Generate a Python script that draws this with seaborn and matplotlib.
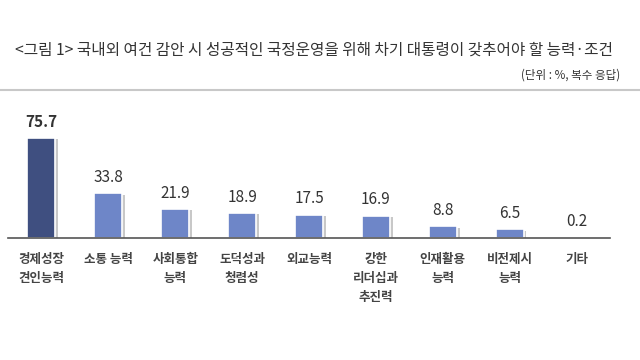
import matplotlib
matplotlib.use("Agg")
import matplotlib.pyplot as plt
import matplotlib.patheffects as pe
import seaborn as sns
import pandas as pd

categories = ["경제성장\n견인능력", "소통 능력", "사회통합\n능력", "도덕성과\n청렴성", "외교능력",
              "강한\n리더십과\n추진력", "인재활용\n능력", "비전제시\n능력", "기타"]
values = [75.7, 33.8, 21.9, 18.9, 17.5, 16.9, 8.8, 6.5, 0.2]
value_labels = ["75.7", "33.8", "21.9", "18.9", "17.5", "16.9", "8.8", "6.5", "0.2"]
title = "<그림 1> 국내외 여건 감안 시 성공적인 국정운영을 위해 차기 대통령이 갖추어야 할 능력·조건"
unit = "(단위 : %, 복수 응답)"

sns.set_theme(style="white")
plt.rcParams['font.family'] = ['Noto Sans CJK KR', 'DejaVu Sans']

dark = "#3f4f80"
light = "#6e86c8"
palette = [dark] + [light] * (len(categories) - 1)

df = pd.DataFrame({"cat": categories, "val": values})

fig = plt.figure(figsize=(6.4, 3.6), dpi=100)
ax = fig.add_axes([8/640, (360-238)/360, 602/640, 138/360])
sns.barplot(data=df, x="cat", y="val", hue="cat", palette=palette, legend=False,
            width=0.42, ax=ax, saturation=1)

for p in ax.patches:
    p.set_edgecolor("white")
    p.set_linewidth(1.2)
    p.set_path_effects([pe.SimplePatchShadow(offset=(2, -1), shadow_rgbFace="#bbbbbb", alpha=0.8),
                        pe.Normal()])

ax.set_xlim(-0.5, len(categories) - 0.5)
ax.set_ylim(0, 104.5)
ax.set_xlabel("")
ax.set_ylabel("")
ax.set_yticks([])
for s in ["top", "left", "right"]:
    ax.spines[s].set_visible(False)
ax.spines["bottom"].set_color("#555555")
ax.spines["bottom"].set_linewidth(1.2)

ax.set_xticks(range(len(categories)))
ax.set_xticklabels(categories, fontsize=9, fontweight="bold", color="#444444", linespacing=1.6, va="top")
ax.tick_params(axis="x", length=0, pad=11)
# minor ticks at category boundaries
ax.set_xticks([i - 0.5 for i in range(len(categories) + 1)], minor=True)
ax.tick_params(axis="x", which="minor", length=3, direction="inout", color="#555555", width=1.2)

for i, (v, lab) in enumerate(zip(values, value_labels)):
    ax.annotate(lab, (i, v), xytext=(0, 11.5), textcoords="offset points",
                ha="center", va="center", fontsize=11,
                fontweight="bold" if i == 0 else "normal", color="#333333",
                annotation_clip=False)

fig.text(15/640, 1 - 50/360, title, fontsize=11.3, color="#333333", ha="left", va="center")
fig.text(620/640, 1 - 75/360, unit, fontsize=8.3, color="#333333", ha="right", va="center")
fig.add_artist(plt.Line2D([0, 1], [1 - 90/360, 1 - 90/360], color="#c8c8c8", linewidth=1.5,
                          transform=fig.transFigure))

fig.savefig("out.png", dpi=100)
